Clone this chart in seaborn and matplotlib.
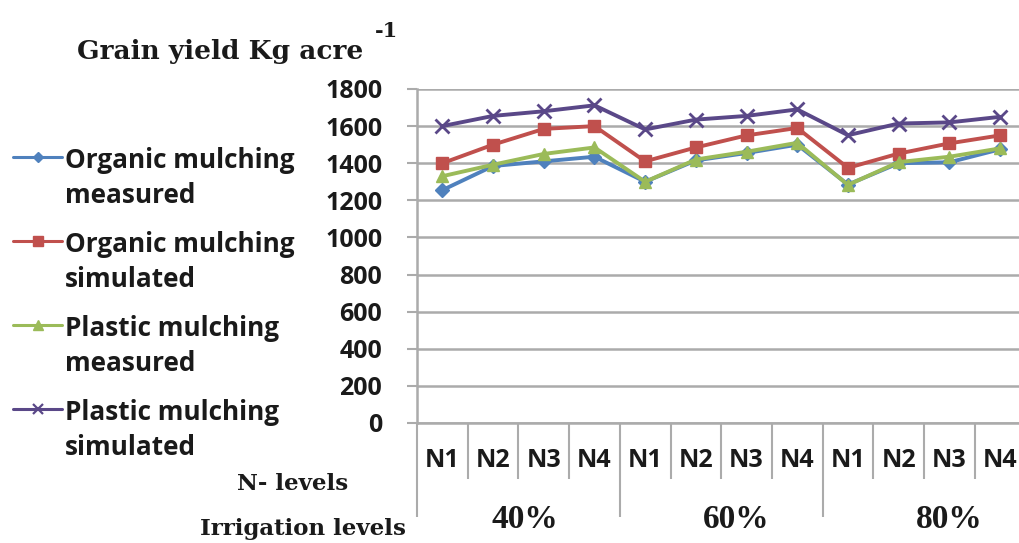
import numpy as np
import pandas as pd
import matplotlib
matplotlib.use("Agg")
import matplotlib.pyplot as plt
from matplotlib.lines import Line2D
import seaborn as sns

# ---------------- data ----------------
n_levels = ["N1", "N2", "N3", "N4"] * 3
irrigation_levels = ["40%", "60%", "80%"]
series_first = ["Organic mulching", "Organic mulching", "Plastic mulching", "Plastic mulching"]
series_second = ["measured", "simulated", "measured", "simulated"]
organic_measured = [1255, 1385, 1410, 1435, 1300, 1415, 1455, 1500, 1285, 1400, 1405, 1475]
organic_simulated = [1400, 1500, 1585, 1600, 1410, 1485, 1550, 1590, 1375, 1452, 1507, 1550]
plastic_measured = [1330, 1392, 1450, 1485, 1300, 1420, 1462, 1510, 1283, 1406, 1435, 1480]
plastic_simulated = [1600, 1655, 1680, 1712, 1582, 1635, 1655, 1690, 1551, 1614, 1620, 1650]
y_ticks = [0, 200, 400, 600, 800, 1000, 1200, 1400, 1600, 1800]

values = [organic_measured, organic_simulated, plastic_measured, plastic_simulated]
colors = ["#4F81BD", "#C0504D", "#9BBB59", "#5A4888"]
markers = ["D", "s", "^", "x"]
msizes = [7, 9, 9, 10]

sns.set_style("white")
plt.rcParams["font.family"] = ["Open Sans", "DejaVu Sans"]

W, H = 1019, 543
fig = plt.figure(figsize=(W / 100, H / 100), dpi=100)
fig.patch.set_facecolor("white")

cat_w = 50.7
ax_left, ax_right = 417, 417 + 12 * cat_w
ax_top, ax_bot = 89, 423
ax = fig.add_axes([ax_left / W, 1 - ax_bot / H, (ax_right - ax_left) / W, (ax_bot - ax_top) / H])

pos = np.arange(len(n_levels))
for i in range(4):
    df = pd.DataFrame({"pos": pos, "value": values[i]})
    sns.lineplot(data=df, x="pos", y="value", ax=ax, color=colors[i], lw=2.8,
                 marker=markers[i], markersize=msizes[i], markeredgecolor=colors[i],
                 markeredgewidth=2 if markers[i] == "x" else 1, legend=False, zorder=3 + i)

grid_c = "#ABABAB"
ax.set_ylim(0, 1800)
ax.set_xlim(-0.5, 11.5)
ax.set_yticks(y_ticks)
ax.set_yticklabels([str(v) for v in y_ticks], fontsize=18, fontweight="bold", color="#1a1a1a")
ax.yaxis.grid(True, color=grid_c, lw=1.8)
ax.set_axisbelow(True)
ax.tick_params(axis="y", length=7, width=1.5, color=grid_c, pad=18, left=True)
for s in ["top", "right"]:
    ax.spines[s].set_visible(False)
ax.spines["left"].set_color(grid_c)
ax.spines["left"].set_linewidth(1.8)
ax.spines["bottom"].set_color(grid_c)
ax.spines["bottom"].set_linewidth(1.8)

# x: N-level labels at centers, separators as minor ticks
ax.set_xticks(pos)
ax.set_xticklabels(n_levels, fontsize=18, fontweight="bold", color="#1a1a1a")
ax.tick_params(axis="x", which="major", length=0, pad=18)
inner_bounds = [b + 0.5 for b in range(11) if (b + 1) % 4 != 0]
ax.set_xticks(inner_bounds, minor=True)
ax.tick_params(axis="x", which="minor", length=40, width=1.5, color=grid_c,
               direction="out", bottom=True)
ax.set_xlabel("")
ax.set_ylabel("")

# group axis
sec = ax.secondary_xaxis("bottom")
sec.spines["bottom"].set_visible(False)
sec.set_xticks([-0.5, 3.5, 7.5, 11.5])
sec.set_xticklabels(["", "", "", ""])
sec.tick_params(axis="x", which="major", length=68, width=1.5, color=grid_c, bottom=True)
sec.set_xticks([1.62, 5.8, 10.0], minor=True)
sec.set_xticklabels(irrigation_levels, minor=True, fontsize=24, fontweight="bold",
                    family="Liberation Serif", color="#1a1a1a")
sec.tick_params(axis="x", which="minor", length=0, pad=58)

# titles
fig.text(77 / W, 1 - 59 / H, "Grain yield Kg acre", fontsize=19, fontweight="bold",
         family="DejaVu Serif", va="baseline", ha="left", color="#1a1a1a")
fig.text(375 / W, 1 - 37 / H, "-1", fontsize=15, fontweight="bold",
         family="DejaVu Serif", va="baseline", ha="left", color="#1a1a1a")
fig.text(237 / W, 1 - 490 / H, "N- levels", fontsize=16.5, fontweight="bold",
         family="DejaVu Serif", va="baseline", ha="left", color="#1a1a1a")
fig.text(200 / W, 1 - 535 / H, "Irrigation levels", fontsize=16.5, fontweight="bold",
         family="DejaVu Serif", va="baseline", ha="left", color="#1a1a1a")

# legend (manual, two-line entries)
for i in range(4):
    base1 = 168 + 84 * i
    ymid = 157 + 84 * i
    ln = Line2D([13 / W, 38 / W, 62 / W], [1 - ymid / H] * 3, transform=fig.transFigure,
                color=colors[i], lw=2.2, marker=markers[i], markevery=[1],
                markersize=msizes[i] * 0.75, markeredgecolor=colors[i],
                markeredgewidth=1.6 if markers[i] == "x" else 1)
    fig.add_artist(ln)
    fig.text(65 / W, 1 - base1 / H, series_first[i], fontsize=18.8, fontweight="bold",
             va="baseline", ha="left", color="#1a1a1a")
    fig.text(65 / W, 1 - (base1 + 35) / H, series_second[i], fontsize=18.8, fontweight="bold",
             va="baseline", ha="left", color="#1a1a1a")

fig.savefig("out.png", dpi=100, facecolor="white")
